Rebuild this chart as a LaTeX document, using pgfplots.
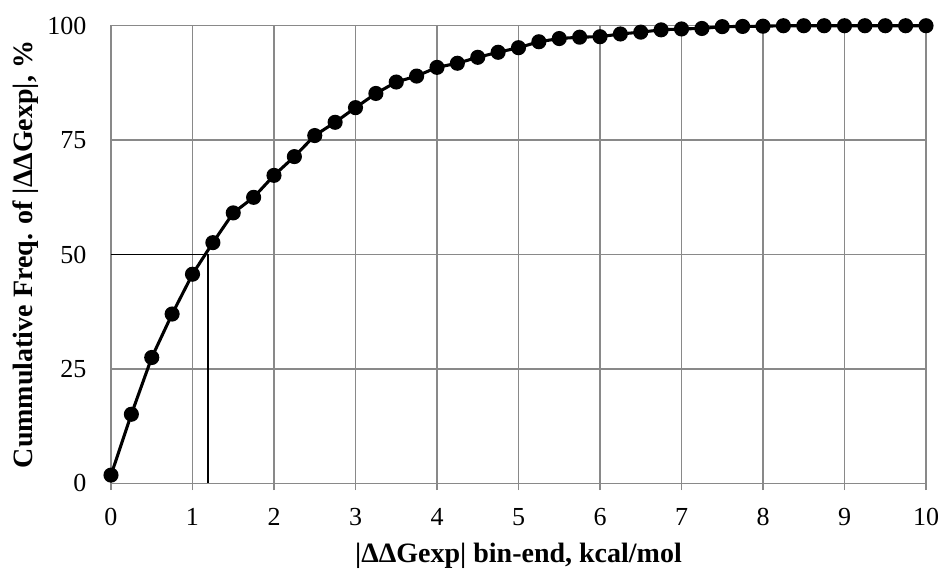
\documentclass[border=0pt]{standalone}
\usepackage{fontspec}
\setmainfont{Liberation Serif}
\usepackage{pgfplots}
\pgfplotsset{compat=1.18}
\definecolor{gridgray}{HTML}{898989}
\begin{document}
\begin{tikzpicture}
\begin{axis}[
  scale only axis,
  width=611.25pt, height=343.2pt,
  xmin=0, xmax=10, ymin=0, ymax=100,
  xtick={0,1,...,10}, ytick={0,25,50,75,100},
  grid=major,
  major grid style={gridgray, line width=1.1pt},
  axis line style={gridgray, line width=1.1pt},
  x tick style={gridgray, line width=1.1pt},
  major tick length=5pt,
  tick align=outside,
  y tick style={draw=none},
  xtick pos=bottom, ytick pos=left,
  /pgf/number format/assume math mode=true,
  tick label style={font=\fontsize{19.5}{22}\selectfont},
  xticklabel style={yshift=-10pt},
  yticklabel style={xshift=-10pt},
  xlabel={\textbf{|ΔΔGexp| bin-end, kcal/mol}},
  ylabel={\textbf{Cummulative Freq. of |ΔΔGexp|, \%}},
  label style={font=\fontsize{21}{24}\selectfont},
  xlabel style={yshift=-6pt},
  ylabel style={yshift=0pt},
  clip=false,
]
\addplot[black, line width=0.9pt] coordinates {(0,50) (1.19,50) (1.19,0)};
\addplot[black, line width=2.3pt, mark=*, mark size=4.5pt] coordinates {
(0,1.8) (0.25,15.1) (0.5,27.5) (0.75,37.0) (1.0,45.7) (1.25,52.6) (1.5,59.1) (1.75,62.5)
(2.0,67.3) (2.25,71.4) (2.5,76.0) (2.75,78.9) (3.0,82.1) (3.25,85.2) (3.5,87.7) (3.75,89.0)
(4.0,90.9) (4.25,91.8) (4.5,93.1) (4.75,94.2) (5.0,95.2) (5.25,96.5) (5.5,97.2) (5.75,97.5)
(6.0,97.6) (6.25,98.2) (6.5,98.6) (6.75,99.1) (7.0,99.3) (7.25,99.4) (7.5,99.8) (7.75,99.85)
(8.0,99.9) (8.25,100) (8.5,100) (8.75,100) (9.0,100) (9.25,100) (9.5,100) (9.75,100) (10,100)
};
\end{axis}
\pgfresetboundingbox
\path ([shift={(-83.25pt,-66.75pt)}]current axis.south west) rectangle ([shift={(11.25pt,19.3pt)}]current axis.north east);
\end{tikzpicture}
\end{document}
